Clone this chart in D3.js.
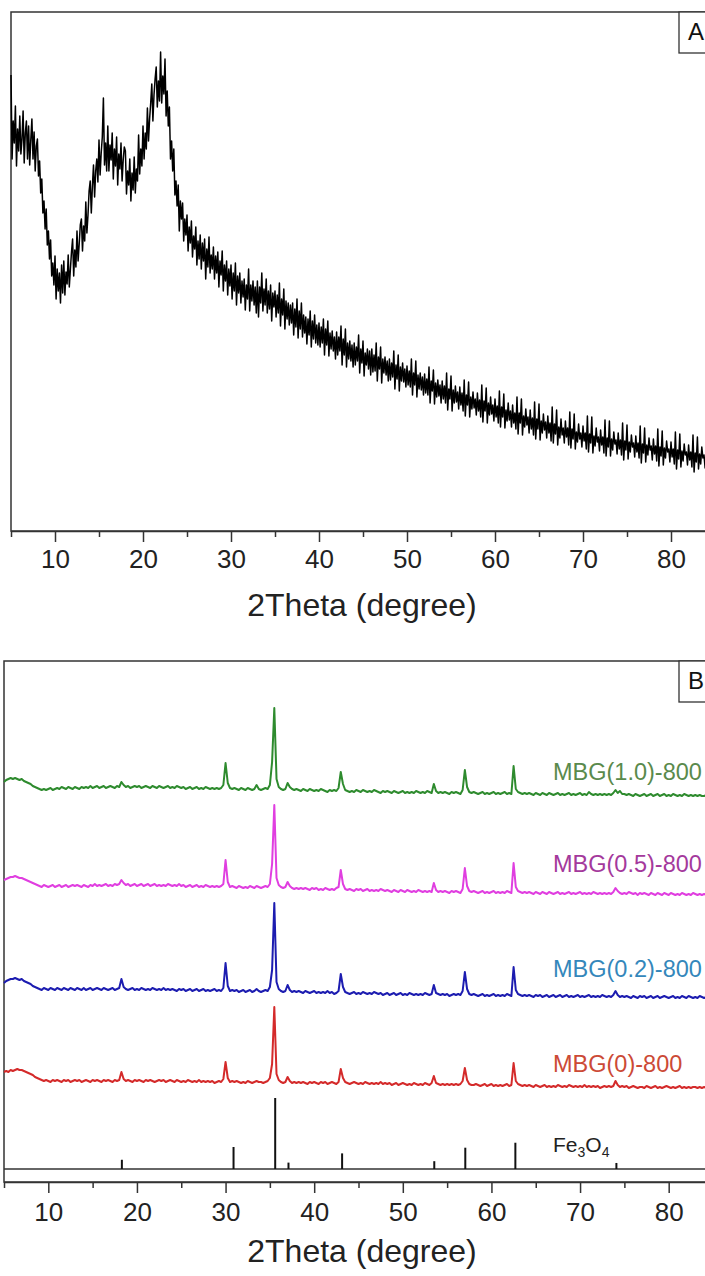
<!DOCTYPE html>
<html><head><meta charset="utf-8">
<script src="https://cdn.jsdelivr.net/npm/d3@7"></script>
<style>body{margin:0;background:#fff}svg{display:block}text{font-family:"Liberation Sans",Arial,sans-serif}</style>
</head><body><svg id="c" width="705" height="1276"></svg>
<script>
// ---- data ----
const thetaStart = 5;                 // 2θ scan start (degree)
const stepA = 0.125, stepB = 0.25;    // scan steps (degree)
const xMajorTicks = [10, 20, 30, 40, 50, 60, 70, 80];
const xMinorTicks = [5, 15, 25, 35, 45, 55, 65, 75, 85];
const axisTitle = "2Theta (degree)";

// Panel A: amorphous pattern (a.u.), 5–85°, step 0.125° (8 values per degree)
const patternA = [
456,372,410,388,425,365,402,380, 415,377,392,420,368,398,410,372, 405,366,391,412,372,399,360,385,
392,355,370,338,352,318,330,302, 322,286,300,272,291,255,268,246, 275,232,262,240,258,228,266,238,
270,236,259,247,276,244,262,279, 292,255,281,264,300,270,287,306, 312,280,305,290,329,298,316,340,
350,318,345,366,334,360,372,349, 391,356,378,394,433,366,388,360, 405,360,386,371,398,352,382,365,
394,346,377,362,388,350,371,384, 380,337,360,346,372,330,358,341, 374,338,362,350,396,357,382,365,
405,372,398,382,423,390,412,428, 447,410,436,452,464,424,450,430, 479,428,455,437,472,415,440,405,
424,372,390,360,382,336,350,325, 346,300,330,312,328,290,312,296, 316,280,304,288,310,274,295,282,
304,266,290,272,296,262,288,270, 292,252,282,264,294,258,276,262, 284,252,275,258,279,244,270,256,
280,240,266,250,270,236,262,245, 266,232,258,240,268,226,255,238, 258,228,250,234,252,221,246,232,
262,220,246,230,250,226,244,218, 250,214,244,228,258,220,242,226, 252,218,240,222,246,210,238,224,
240,214,236,218,248,205,232,216, 242,202,230,212,228,206,226,208, 228,196,222,204,232,193,220,202,
228,194,216,198,214,187,212,196, 220,184,210,192,216,188,206,186, 208,184,204,188,212,176,202,186,
210,175,198,182,200,180,194,172, 199,176,194,180,205,166,192,176, 202,164,188,172,190,170,186,164,
188,166,184,170,196,158,182,168, 190,155,178,166,182,162,180,156, 182,159,176,160,188,150,174,162,
184,148,172,158,174,156,170,150, 172,151,168,154,180,142,166,152, 176,140,164,150,168,149,162,144,
165,146,160,144,172,136,158,146, 170,134,156,142,158,141,154,136, 157,138,152,136,164,128,150,140,
161,127,148,134,151,135,146,128, 150,132,145,128,158,121,142,132, 155,120,141,128,145,129,139,122,
144,126,138,120,151,115,136,126, 149,114,134,122,139,123,132,116, 138,120,131,114,146,109,130,120,
143,108,128,116,134,117,126,110, 132,114,125,108,140,104,124,114, 137,103,121,110,128,111,120,104,
126,108,118,102,134,97,118,108, 132,96,115,104,122,106,114,98, 121,102,113,96,129,92,112,102,
127,91,110,98,117,101,109,93, 115,98,108,90,124,88,107,97, 121,86,104,93,112,96,103,88,
110,94,103,86,119,83,102,92, 117,82,99,89,107,92,98,84, 105,90,98,82,115,79,97,88,
114,78,95,85,103,89,94,80, 101,86,94,78,111,75,93,84, 110,75,92,81,99,87,91,77,
98,82,91,76,108,71,90,81, 106,72,89,79,96,84,88,74, 95,79,88,73,105,68,87,78,
103,69,86,76,93,81,85,71, 92,77,85,70,102,65,84,75, 100,66,83,73,90,79,82,69,
89,74,82,67,99,62,81,72, 97,64,80,70,87,76,79,66, 86,71,79,64,96,59,78,69,
94,62,77,67,84,73,76,63, 83,47,76,64,93,57,75,66, 76];

// Panel B: stacked patterns (a.u., offset included), 5–85°, step 0.25°
const mbg0 = [
110,111,110,112, 111,112,113,112, 112,111,110,109, 108,107,105,104, 103,102,101,102,
101,100,102,101, 102,101,100,102, 101,102,100,101, 102,101,102,100, 101,102,101,100,
102,101,102,101, 100,102,101,102, 101,100,102,101, 102,110,103,101, 102,101,100,102,
101,102,101,100, 102,101,102,101, 100,101,102,101, 102,100,101,102, 101,100,102,101,
100,101,100,102, 101,100,101,100, 102,100,101,100, 101,100,101,99, 100,101,100,103,
120,104,100,101, 100,101,100,99, 100,99,101,100, 99,100,101,100, 100,99,100,101,
104,118,175,108, 102,100,99,100, 105,101,99,100, 99,100,99,100, 99,98,100,99,
100,99,98,100, 99,100,98,99, 100,99,98,100, 113,104,100,99, 98,99,100,99,
98,99,98,100, 99,98,99,98, 99,98,100,98, 99,98,99,97, 98,99,97,98,
99,98,97,98, 97,99,98,97, 98,97,99,98, 97,99,106,99, 98,97,98,97,
98,97,98,97, 98,97,98,101, 114,102,98,97, 97,98,97,96, 97,98,96,97,
98,96,97,96, 97,96,97,98, 96,97,119,101, 98,97,96,97, 96,97,96,95,
97,96,95,96, 97,95,96,95, 96,95,97,96, 95,96,95,97, 96,95,96,95,
96,95,97,95, 96,95,96,95, 96,94,95,96, 95,96,95,96, 101,97,95,96,
95,96,94,95, 96,95,94,95, 95,94,96,95, 94,95,96,94, 95,94,95,96,
95,94,95,94, 95,96,94,95, 94,95,94,95, 95,94,95,94, 95,94,95,95, 95];
const mbg02 = [
199,201,202,203, 203,204,203,202, 203,201,200,199, 198,196,195,194, 193,192,194,193,
192,194,193,192, 194,193,192,194, 193,192,194,193, 192,194,193,192, 194,192,193,194,
192,193,194,193, 192,194,193,192, 193,194,192,193, 194,203,195,193, 192,193,194,192,
193,192,194,193, 192,193,192,194, 193,192,193,192, 194,192,193,192, 193,192,191,193,
192,193,191,192, 193,191,192,193, 191,192,193,191, 192,191,192,193, 191,192,191,194,
219,196,191,192, 191,192,190,191, 192,190,191,192, 190,191,193,191, 190,191,192,191,
195,212,279,200, 193,191,190,191, 197,192,190,191, 190,191,190,189, 191,190,189,190,
191,189,190,189, 190,189,191,189, 190,188,189,191, 208,195,190,189, 188,189,190,188,
189,188,190,189, 188,189,188,190, 189,188,189,187, 188,189,187,188, 189,187,188,189,
187,188,187,189, 188,187,188,187, 188,187,189,188, 187,188,197,189, 188,187,188,187,
188,186,187,188, 187,188,187,191, 210,193,188,187, 188,187,186,187, 188,186,187,186,
187,188,186,187, 186,187,186,188, 187,186,215,192, 188,187,186,187, 186,187,186,185,
187,186,187,185, 186,187,185,186, 187,185,186,187, 185,186,187,185, 186,185,186,187,
185,186,185,186, 187,185,186,185, 186,185,187,186, 185,186,185,187, 191,187,185,186,
185,186,185,184, 186,185,184,186, 185,186,184,185, 186,184,185,186, 184,185,186,185,
184,185,186,184, 185,184,186,185, 184,186,185,184, 185,184,186,185, 184,185,184,185, 185];
const mbg05 = [
302,303,304,305, 305,306,305,304, 304,303,302,301, 300,299,298,297, 296,295,297,296,
295,296,297,295, 296,297,295,296, 297,295,296,297, 296,297,296,295, 297,296,295,297,
296,298,296,297, 296,297,298,296, 297,296,298,297, 298,302,299,297, 298,296,297,298,
296,297,298,296, 297,298,296,297, 298,296,297,296, 297,296,298,297, 296,297,296,298,
296,297,295,296, 297,295,296,297, 295,296,295,297, 296,295,296,295, 296,295,296,298,
322,300,295,296, 295,294,296,295, 294,295,294,296, 295,294,296,295, 294,295,296,295,
298,318,377,304, 297,295,294,295, 300,296,294,293, 294,293,294,293, 294,293,292,294,
293,294,292,293, 292,294,293,292, 293,292,294,295, 312,298,293,292, 293,292,291,293,
292,293,291,292, 293,291,292,291, 292,291,293,292, 291,292,291,290, 292,291,290,292,
291,290,292,291, 290,291,290,292, 291,290,291,290, 291,290,299,292, 290,291,290,291,
290,289,291,290, 291,290,289,293, 314,296,291,290, 291,290,289,290, 291,289,290,289,
290,291,289,290, 289,290,289,291, 290,289,319,295, 291,290,289,290, 289,290,289,288,
290,289,288,290, 289,288,290,289, 288,289,290,288, 289,288,289,290, 288,289,288,289,
290,288,289,288, 289,288,290,289, 288,289,288,289, 288,289,288,290, 294,291,289,288,
289,288,290,289, 288,289,287,289, 288,289,288,287, 289,288,287,289, 288,287,289,288,
287,289,288,287, 288,287,289,288, 287,288,287,289, 288,287,288,287, 288,287,288,287, 288];
const mbg10 = [
400,402,403,404, 403,404,403,402, 403,401,400,399, 398,396,395,394, 393,392,393,392,
393,394,392,393, 394,393,395,394, 393,395,394,393, 395,394,393,395, 394,395,394,396,
394,395,396,394, 395,396,394,395, 396,395,394,396, 395,400,397,395, 396,394,395,396,
395,396,394,395, 396,395,394,396, 395,394,396,395, 394,395,396,394, 395,394,396,395,
394,395,393,394, 395,393,394,395, 393,394,393,395, 394,393,394,393, 394,393,394,397,
419,399,394,393, 394,393,392,394, 393,392,394,393, 392,393,397,393, 392,393,394,393,
397,420,474,403, 395,393,392,393, 399,395,393,392, 393,392,391,393, 392,391,393,392,
391,392,391,393, 392,391,390,392, 391,392,391,394, 410,398,392,391, 390,391,390,392,
391,390,392,391, 390,391,390,392, 391,390,389,391, 390,391,390,389, 391,390,389,390,
391,389,390,389, 390,389,391,390, 389,390,389,391, 390,389,398,391, 389,390,389,390,
389,388,390,389, 390,389,388,392, 412,395,390,389, 390,389,388,389, 390,388,389,388,
389,390,388,389, 388,389,390,388, 389,388,416,393, 390,389,388,389, 388,389,388,387,
389,388,387,389, 388,387,389,388, 387,388,389,387, 388,387,388,389, 387,388,387,388,
389,387,388,387, 390,388,387,388, 387,388,387,388, 387,388,387,389, 392,389,391,388,
388,387,388,387, 386,388,387,386, 387,388,386,387, 388,386,387,388, 386,387,388,386,
387,386,388,387, 386,387,386,388, 387,386,387,386, 387,386,387,386, 386,387,386,387, 387];

const seriesB = [mbg0, mbg02, mbg05, mbg10];
const seriesNames = ["MBG(0)-800", "MBG(0.2)-800", "MBG(0.5)-800", "MBG(1.0)-800"];
const lineColors = ["#d42a2a", "#1c1cb0", "#e03ee0", "#2e8b2e"];
const labelColors = ["#cc4a36", "#3487bb", "#a4399c", "#5a8a4c"];
const labelLevels = [110, 205, 310, 402];          // a.u. level of each label baseline

// Fe3O4 reference pattern: 2θ and relative intensity (%)
const fePos = [18.3, 30.9, 35.6, 37.1, 43.15, 53.55, 57.05, 62.7, 74.1];
const feInt = [13, 31, 100, 9, 22, 11, 30, 37, 8.5];

// ---- drawing ----
const svg = d3.select("#c");
const axisColor = "#333";

function panel(o) {
  const x = d3.scaleLinear().domain([5, 85]).range([o.left, o.right]);
  const g = svg.append("g");
  g.append("rect").attr("x", o.left).attr("y", o.top)
    .attr("width", o.right - o.left).attr("height", o.bottom - o.top)
    .attr("fill", "none").attr("stroke", axisColor).attr("stroke-width", 1.5);
  g.append("g").attr("transform", `translate(0,${o.bottom})`)
    .call(d3.axisBottom(x).tickValues(xMinorTicks).tickSize(6).tickSizeOuter(0).tickFormat(""))
    .call(a => a.select(".domain").remove())
    .call(a => a.selectAll("line").attr("stroke", axisColor).attr("stroke-width", 1.5));
  g.append("g").attr("transform", `translate(0,${o.bottom})`)
    .call(d3.axisBottom(x).tickValues(xMajorTicks).tickSize(11).tickSizeOuter(0).tickPadding(o.pad).tickFormat(d3.format("d")))
    .call(a => a.select(".domain").attr("stroke", axisColor).attr("stroke-width", 1.5))
    .call(a => a.selectAll("line").attr("stroke", axisColor).attr("stroke-width", 1.5))
    .call(a => a.selectAll("text").attr("font-size", 26).attr("fill", "#222")
      .attr("font-family", "'Liberation Sans', Arial, sans-serif"));
  g.append("text").attr("x", 362).attr("y", o.titleY).attr("text-anchor", "middle")
    .attr("font-size", 32).attr("fill", "#222").text(axisTitle);
  return x;
}
function letterBox(top, letter) {
  svg.append("rect").attr("x", 679).attr("y", top).attr("width", 40).attr("height", 41)
    .attr("fill", "#fff").attr("stroke", axisColor).attr("stroke-width", 1.3);
  svg.append("text").attr("x", 688).attr("y", top + 28).attr("font-size", 24)
    .attr("fill", "#111").text(letter);
}

// Panel A
const xA = panel({left: 11, right: 715, top: 12, bottom: 531, pad: 8, titleY: 616});
const yA = d3.scaleLinear().domain([0, 520]).range([531, 11]);
const thetaA = patternA.map((d, i) => thetaStart + i * stepA);
svg.append("path").datum(patternA)
  .attr("d", d3.line().x((d, i) => xA(thetaA[i])).y(d => yA(d)))
  .attr("fill", "none").attr("stroke", "#000").attr("stroke-width", 1.5).attr("stroke-linejoin", "round");
letterBox(12, "A");

// Panel B
const xB = panel({left: 4, right: 713, top: 661, bottom: 1182, pad: 10, titleY: 1262});
const yB = d3.scaleLinear().domain([0, 522]).range([1182, 660]);
const thetaB = mbg0.map((d, i) => thetaStart + i * stepB);
seriesB.forEach((s, k) => {
  svg.append("path").datum(s)
    .attr("d", d3.line().x((d, i) => xB(thetaB[i])).y(d => yB(d)))
    .attr("fill", "none").attr("stroke", lineColors[k]).attr("stroke-width", 2).attr("stroke-linejoin", "round");
  svg.append("text").attr("x", 553).attr("y", yB(labelLevels[k])).attr("font-size", 23.5)
    .attr("fill", labelColors[k]).text(seriesNames[k]);
});
const yFe = d3.scaleLinear().domain([0, 100]).range([1169, 1098]);
svg.append("line").attr("x1", xB(5)).attr("x2", xB(85)).attr("y1", yFe(0)).attr("y2", yFe(0))
  .attr("stroke", axisColor).attr("stroke-width", 1.5);
svg.append("g").selectAll("line").data(fePos).join("line")
  .attr("x1", d => xB(d)).attr("x2", d => xB(d))
  .attr("y1", yFe(0)).attr("y2", (d, i) => yFe(feInt[i]))
  .attr("stroke", "#111").attr("stroke-width", 2);
const fe = svg.append("text").attr("x", 553).attr("y", 1152).attr("font-size", 21).attr("fill", "#222");
fe.append("tspan").text("Fe");
fe.append("tspan").attr("font-size", 14).attr("dy", 5).text("3");
fe.append("tspan").attr("dy", -5).text("O");
fe.append("tspan").attr("font-size", 14).attr("dy", 5).text("4");
letterBox(661, "B");
</script></body></html>
